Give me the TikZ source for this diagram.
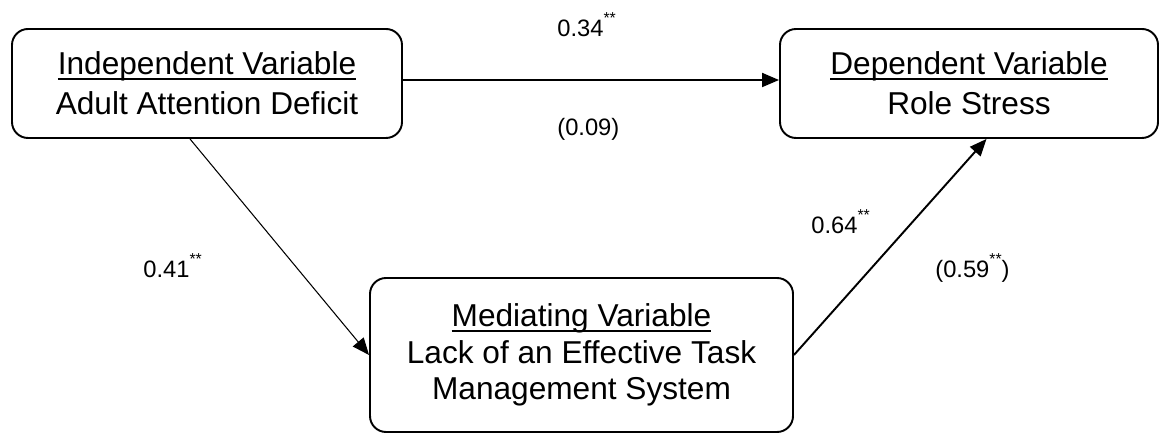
\documentclass[tikz,border=0pt]{standalone}
\usepackage{fontspec}
\setmainfont{Liberation Sans}
\usetikzlibrary{arrows.meta}

\newcommand{\ulbox}[1]{\sbox0{#1}\rlap{\rule[-3.2pt]{\wd0}{1.1pt}}\usebox0}
\newcommand{\sigstars}{\raisebox{7.4pt}{\fontsize{9}{9}\selectfont **}}

\begin{document}
\begin{tikzpicture}[
    varbox/.style={draw, line width=1.1pt, rounded corners=0.32cm, align=center, inner sep=0pt, font=\fontsize{18}{22.8}\selectfont},
    link/.style={-{Triangle[length=0.34cm,width=0.28cm]}, line width=1.1pt},
    coef/.style={anchor=base west, inner sep=0pt, font=\fontsize{13.5}{16}\selectfont}
]
    \useasboundingbox (0,0) rectangle (23.2,8.66);

    % Variables
    \node[varbox, minimum width=7.8cm, minimum height=2.18cm] (iv) at (4.14,6.99) {\ulbox{Independent Variable}\\Adult Attention Deficit};
    \node[varbox, minimum width=7.56cm, minimum height=2.18cm] (dv) at (19.38,6.99) {\ulbox{Dependent Variable}\\Role Stress};
    \node[varbox, minimum width=8.46cm, minimum height=3.08cm, font=\fontsize{18}{20.8}\selectfont] (mv) at (11.63,1.56) {\ulbox{Mediating Variable}\\Lack of an Effective Task\\Management System};

    % Paths
    \draw[link] ([yshift=0.07cm]iv.east) -- ([yshift=0.07cm]dv.west);
    \draw[link, line width=0.6pt] ([xshift=-0.34cm]iv.south) -- (mv.west);
    \draw[link] (mv.east) -- ([xshift=0.35cm]dv.south);

    % Coefficients
    \node[coef] (coefc) at (11.14,7.92) {0.34\sigstars};
    \node[coef] (coefcp) at (11.14,5.94) {(0.09)};
    \node[coef] (coefa) at (2.86,3.10) {0.41\sigstars};
    \node[coef] (coefb) at (16.22,3.98) {0.64\sigstars};
    \node[coef] (coefbp) at (18.70,3.10) {(0.59\sigstars)};
\end{tikzpicture}
\end{document}
